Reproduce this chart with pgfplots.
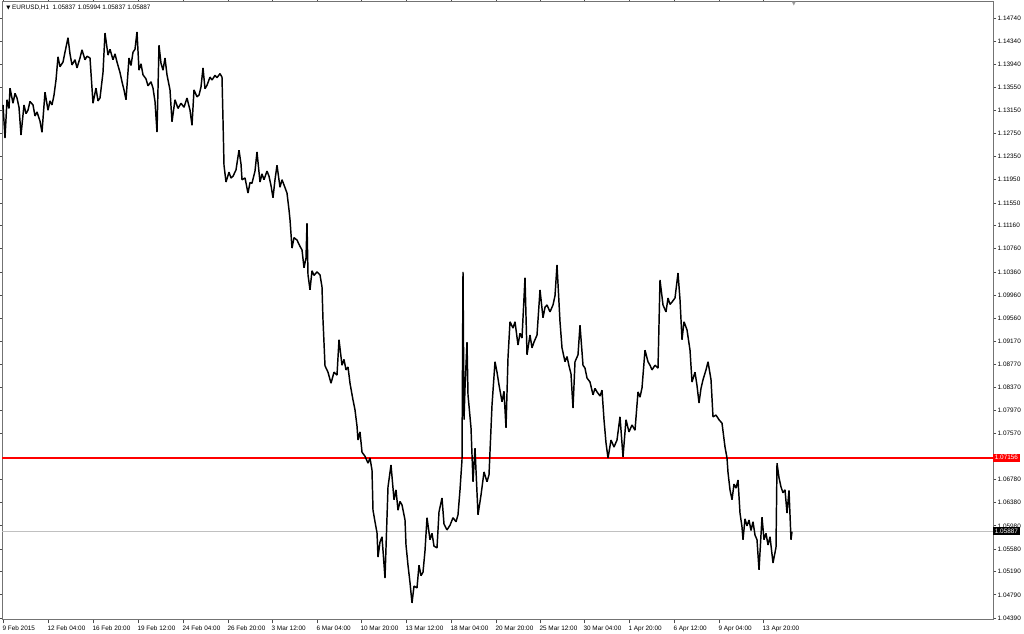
\documentclass[border=0pt]{standalone}
\usepackage{pgfplots}
\usepackage{pgfplotstable}
\pgfplotsset{compat=1.18}
\usepackage{fontspec}
\setmainfont{Liberation Sans}
\newfontfamily\symfont{DejaVu Sans}
\definecolor{mtred}{RGB}{255,0,0}
\definecolor{mtgray}{RGB}{192,192,192}

% EURUSD H1, x = bar position on screen, p = price
\pgfplotstableread{
x p
3 1.1324
5 1.1267
7 1.1333
9 1.1318
10 1.1353
13 1.1327
15 1.1344
17 1.1336
19 1.1320
21 1.1272
24 1.1324
26 1.1309
28 1.1315
30 1.1330
33 1.1324
35 1.1305
37 1.1312
40 1.1296
42 1.1277
45 1.1346
48 1.1315
50 1.1331
52 1.1324
54 1.1341
56 1.1367
58 1.1407
60 1.1390
63 1.1398
65 1.1415
68 1.1440
70 1.1412
72 1.1393
75 1.1402
77 1.1388
80 1.1405
82 1.1419
85 1.1402
87 1.1408
90 1.1405
93 1.1327
96 1.1353
98 1.1331
100 1.1336
103 1.1380
105 1.1448
108 1.1410
110 1.1420
113 1.1402
115 1.1412
117 1.1398
120 1.1380
122 1.1364
124 1.1350
126 1.1333
129 1.1405
131 1.1392
133 1.1415
135 1.1420
137 1.1450
139 1.1384
141 1.1395
143 1.1376
146 1.1369
148 1.1357
151 1.1364
153 1.1353
155 1.1330
157 1.1277
159 1.1427
161 1.1396
163 1.1384
165 1.1405
167 1.1376
170 1.1350
172 1.1295
175 1.1333
178 1.1318
181 1.1327
184 1.1320
187 1.1336
190 1.1315
192 1.1289
194 1.1350
197 1.1338
199 1.1341
201 1.1355
203 1.1388
205 1.1352
207 1.1358
210 1.1372
212 1.1367
215 1.1375
217 1.1371
220 1.1378
222 1.1372
223 1.1298
224 1.1220
226 1.1191
229 1.1208
231 1.1198
233 1.1201
236 1.1212
239 1.1246
241 1.1222
242 1.1195
245 1.1198
248 1.1172
250 1.1190
252 1.1189
255 1.1210
257 1.1243
260 1.1191
262 1.1205
264 1.1195
267 1.1210
269 1.1201
271 1.1185
273 1.1164
275 1.1195
277 1.1220
280 1.1182
282 1.1195
284 1.1186
287 1.1172
289 1.1143
290 1.1126
292 1.1077
294 1.1095
297 1.1091
300 1.1080
302 1.1074
304 1.1043
306 1.1060
307 1.1120
308 1.1031
310 1.1005
312 1.1038
314 1.1030
317 1.1036
320 1.1031
322 1.1010
323 1.0953
325 1.0874
328 1.0863
331 1.0844
334 1.0863
337 1.0858
339 1.0919
342 1.0875
344 1.0885
346 1.0867
348 1.0872
350 1.0844
353 1.0815
355 1.0798
357 1.0770
358 1.0746
360 1.0760
362 1.0725
365 1.0718
368 1.0706
370 1.0715
372 1.0694
373 1.0625
375 1.0605
377 1.0586
378 1.0544
380 1.0570
382 1.0579
385 1.0508
388 1.0665
391 1.0703
394 1.0643
396 1.0660
398 1.0625
400 1.0640
402 1.0634
405 1.0608
406 1.0565
408 1.0530
410 1.0500
412 1.0465
414 1.0494
417 1.0491
419 1.0530
421 1.0512
423 1.0518
425 1.0555
427 1.0612
430 1.0574
432 1.0585
434 1.0563
437 1.0560
439 1.0622
442 1.0646
444 1.0601
447 1.0591
450 1.0599
453 1.0612
456 1.0605
458 1.0617
460 1.0660
462 1.0712
463 1.1036
464 1.0781
465 1.0836
467 1.0915
468 1.0824
471 1.0767
473 1.0674
475 1.0732
478 1.0617
481 1.0651
484 1.0691
487 1.0674
489 1.0686
492 1.0806
495 1.0881
497 1.0863
499 1.0841
502 1.0812
504 1.0830
506 1.0767
508 1.0888
510 1.0950
513 1.0939
515 1.0950
518 1.0910
520 1.0930
522 1.0922
525 1.1026
527 1.0893
530 1.0927
532 1.0905
534 1.0915
537 1.0927
540 1.1005
543 1.0957
545 1.0975
547 1.0979
550 1.0967
553 1.0979
555 1.0995
557 1.1048
560 1.0950
562 1.0905
565 1.0881
567 1.0890
569 1.0874
571 1.0860
573 1.0801
575 1.0881
578 1.0893
580 1.0944
583 1.0875
585 1.0870
587 1.0853
590 1.0846
593 1.0824
595 1.0835
597 1.0829
600 1.0822
602 1.0832
604 1.0781
606 1.0741
608 1.0715
611 1.0746
614 1.0734
617 1.0746
620 1.0786
623 1.0717
626 1.0781
629 1.0760
632 1.0772
635 1.0763
638 1.0829
640 1.0820
642 1.0836
645 1.0901
648 1.0881
650 1.0875
652 1.0867
655 1.0875
658 1.0870
660 1.1022
663 1.0979
666 1.0967
668 1.0991
670 1.0980
672 1.0984
675 1.0991
678 1.1034
680 1.0988
682 1.0919
684 1.0950
687 1.0936
690 1.0901
692 1.0846
695 1.0863
697 1.0840
699 1.0810
701 1.0835
703 1.0850
706 1.0867
708 1.0881
711 1.0850
713 1.0786
716 1.0789
719 1.0781
722 1.0775
725 1.0734
727 1.0715
728 1.0690
730 1.0660
732 1.0643
734 1.0670
736 1.0663
738 1.0677
740 1.0620
742 1.0596
743 1.0574
745 1.0610
747 1.0598
749 1.0608
751 1.0590
753 1.0605
755 1.0582
757 1.0574
759 1.0522
762 1.0613
764 1.0574
766 1.0585
768 1.0565
770 1.0579
773 1.0534
776 1.0561
777 1.0706
779 1.0681
781 1.0665
783 1.0655
785 1.0660
787 1.0620
789 1.0659
791 1.0574
792 1.0588
}\eurusd

\begin{document}
\begin{tikzpicture}
\useasboundingbox (0,0) rectangle (768pt,475.5pt);
\begin{axis}[
  at={(1.5pt,474pt)}, anchor=north west,
  scale only axis, width=743.25pt, height=463.5pt,
  xmin=2, xmax=993, ymin=1.043555, ymax=1.15016,
  axis line style={black!55, line width=0.75pt},
  scaled y ticks=false,
  ytick={1.14740,1.14340,1.13940,1.13550,1.13150,1.12750,1.12350,1.11950,1.11550,1.11160,1.10760,1.10360,1.09960,1.09560,1.09170,1.08770,1.08370,1.07970,1.07570,1.06780,1.06380,1.05980,1.05580,1.05190,1.04790,1.04390},
  yticklabels={1.14740,1.14340,1.13940,1.13550,1.13150,1.12750,1.12350,1.11950,1.11550,1.11160,1.10760,1.10360,1.09960,1.09560,1.09170,1.08770,1.08370,1.07970,1.07570,1.06780,1.06380,1.05980,1.05580,1.05190,1.04790,1.04390},
  yticklabel pos=right,
  xtick={3,48,93,138,183,228,272,317,361,406,451,496,540,584,629,674,719,763},
  xticklabels={9 Feb 2015,12 Feb 04:00,16 Feb 20:00,19 Feb 12:00,24 Feb 04:00,26 Feb 20:00,3 Mar 12:00,6 Mar 04:00,10 Mar 20:00,13 Mar 12:00,18 Mar 04:00,20 Mar 20:00,25 Mar 12:00,30 Mar 04:00,1 Apr 20:00,6 Apr 12:00,9 Apr 04:00,13 Apr 20:00},
  tick align=outside, major tick length=2.5pt,
  tick style={black!70, line width=0.5pt},
  ticklabel style={font=\fontsize{4.8}{5.5}\selectfont, text=black, inner sep=0pt},
  xticklabel style={anchor=north west, yshift=-1.5pt, xshift=-0.5pt},
  yticklabel style={anchor=west, xshift=0.8pt},
  clip=false,
]
\addplot[draw=mtgray, line width=0.7pt, mark=none] coordinates {(2,1.05887) (993,1.05887)};
\addplot[draw=mtred, line width=1.3pt, mark=none] coordinates {(2,1.07156) (993,1.07156)};
\addplot[draw=black, line width=1.1pt, mark=none, line join=bevel] table[x=x, y=p] {\eurusd};
\node[fill=mtred, text=white, anchor=west, inner xsep=1.2pt, inner ysep=1.2pt,
  font=\fontsize{4.8}{5.5}\selectfont] at (axis cs:993,1.07156) {1.07156};
\node[fill=black, text=white, anchor=west, inner xsep=1.2pt, inner ysep=1.2pt,
  font=\fontsize{4.8}{5.5}\selectfont] at (axis cs:993,1.05887) {1.05887};
\node[anchor=west, inner sep=0pt, font=\fontsize{4.8}{5.5}\selectfont]
  at ([xshift=3pt, yshift=-4.5pt] rel axis cs:0,1)
  {{\symfont\fontsize{4}{5}\selectfont ▼}\ EURUSD,H1\ \ 1.05837 1.05994 1.05837 1.05887};
% chart shift marker at the top edge
\node[anchor=north, inner sep=0pt, text=black!40, font=\symfont\fontsize{4}{5}\selectfont]
  at (axis cs:794,1.15016) {▼};
\end{axis}
\end{tikzpicture}
\end{document}
